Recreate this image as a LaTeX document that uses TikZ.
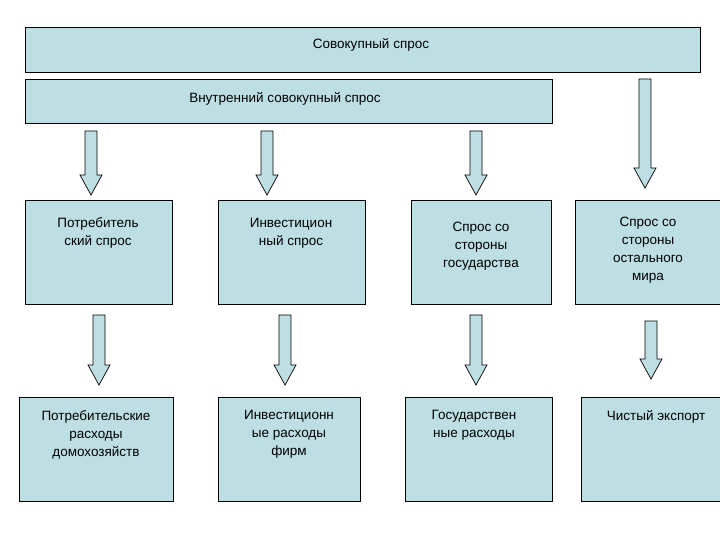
\documentclass[tikz,border=0pt]{standalone}
\usepackage{fontspec}
\setmainfont{Liberation Sans}
\definecolor{bx}{HTML}{BDDFE3}
\newcommand{\blockarrow}[4]{%
  \coordinate (#1) at (#2,#3);
  \draw[arr] ({#2-6},#3) -- ({#2-6},{#4-20}) -- ({#2-11},{#4-20}) -- (#2,#4)
    -- ({#2+11},{#4-20}) -- ({#2+6},{#4-20}) -- ({#2+6},#3) -- cycle;}
\begin{document}
\begin{tikzpicture}[x=1pt,y=-1pt,
  box/.style={draw=black,fill=bx,line width=0.8pt},
  lbl/.style={align=center,font=\fontsize{13.5}{18}\selectfont},
  arr/.style={draw=black,fill=bx,line width=0.7pt,line join=miter}]
\useasboundingbox (0,0) rectangle (720,540);
\draw[box] (25,27) rectangle (700,72);
\node[lbl] (top) at (371,45) {Совокупный спрос};
\draw[box] (25,79) rectangle (552,123);
\node[lbl] (dom) at (285,99) {Внутренний совокупный спрос};
% arrows row 1
\blockarrow{a1}{91}{131}{195}
\blockarrow{a2}{267}{131}{195}
\blockarrow{a3}{476}{131}{195}
\blockarrow{a4}{645}{79}{188}
% row 1 boxes
\draw[box] (25,200) rectangle (172,304);
\draw[box] (218,200) rectangle (365,304);
\draw[box] (411,200) rectangle (551,304);
\draw[box] (575,200) rectangle (722,304);
\node[lbl] (b1) at (98,233) {Потребитель\\ский спрос};
\node[lbl] (b2) at (291,233) {Инвестицион\\ный спрос};
\node[lbl] (b3) at (481,246) {Спрос со\\стороны\\государства};
\node[lbl] (b4) at (648,250) {Спрос со\\стороны\\остального\\мира};
% arrows row 2
\blockarrow{c1}{99}{315}{385}
\blockarrow{c2}{285}{315}{385}
\blockarrow{c3}{476}{315}{385}
\blockarrow{c4}{651}{321}{379}
% row 2 boxes
\draw[box] (19,397) rectangle (173,501);
\draw[box] (218,397) rectangle (360,501);
\draw[box] (405,397) rectangle (552,501);
\draw[box] (581,397) rectangle (722,501);
\node[lbl,anchor=north] (d1) at (96,407) {Потребительские\\расходы\\домохозяйств};
\node[lbl,anchor=north] (d2) at (289,407) {Инвестиционн\\ые расходы\\фирм};
\node[lbl,anchor=north] (d3) at (474,407) {Государствен\\ные расходы};
\node[lbl,anchor=north] (d4) at (656,407) {Чистый экспорт};
\end{tikzpicture}
\end{document}
